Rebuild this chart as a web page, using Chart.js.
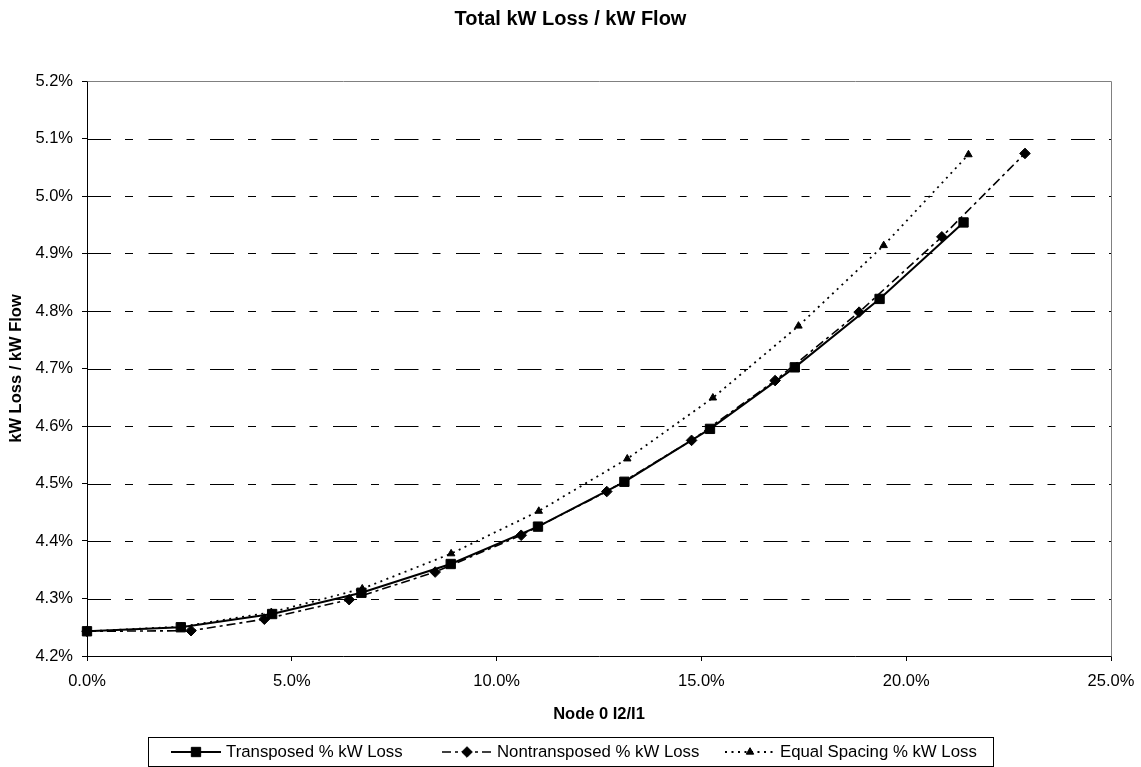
<!DOCTYPE html>
<html>
<head>
<meta charset="utf-8">
<title>Total kW Loss / kW Flow</title>
<script src="https://cdn.jsdelivr.net/npm/chart.js@4.4.1/dist/chart.umd.min.js"></script>
<style>
  html, body { margin: 0; padding: 0; background: #fff; }
  #wrap { position: relative; width: 1141px; height: 767px; }
</style>
</head>
<body>
<div id="wrap"><canvas id="chart" width="1141" height="767"></canvas></div>
<script>
// Node 0 I2/I1 (%) and total kW loss / kW flow (%) for each conductor arrangement
const transposedX    = [0, 2.29, 4.52, 6.70, 8.88, 11.01, 13.12, 15.21, 17.28, 19.35, 21.40];
const transposedY    = [4.243, 4.250, 4.273, 4.310, 4.360, 4.425, 4.503, 4.595, 4.702, 4.821, 4.954];

const nontransposedX = [0, 2.54, 4.33, 6.40, 8.50, 10.60, 12.69, 14.76, 16.80, 18.85, 20.87, 22.90];
const nontransposedY = [4.243, 4.244, 4.264, 4.298, 4.346, 4.410, 4.486, 4.575, 4.679, 4.798, 4.929, 5.074];

const equalSpacingX  = [0, 2.30, 4.50, 6.72, 8.89, 11.03, 13.19, 15.28, 17.37, 19.45, 21.52];
const equalSpacingY  = [4.243, 4.251, 4.276, 4.317, 4.378, 4.452, 4.543, 4.649, 4.774, 4.914, 5.072];

const seriesNames = ['Transposed % kW Loss', 'Nontransposed % kW Loss', 'Equal Spacing % kW Loss'];

const chartTitle = 'Total kW Loss / kW Flow';
const xTitle = 'Node 0 I2/I1';
const yTitle = 'kW Loss / kW Flow';

const xMin = 0, xMax = 25, xStep = 5;
const yMin = 4.2, yMax = 5.2, yStep = 0.1;

const FONT = "'Liberation Sans', Arial, sans-serif";
const GRID_DASH = [24, 14, 8, 15.5];

function pairs(xs, ys) {
  return xs.map((x, i) => ({ x: x, y: ys[i] }));
}

// marker shapes used in the legend samples (same geometry as Chart.js point styles)
function drawMarker(ctx, style, x, y, r) {
  ctx.beginPath();
  if (style === 'rect') {
    const s = Math.SQRT1_2 * r;
    ctx.rect(x - s, y - s, 2 * s, 2 * s);
  } else if (style === 'rectRot') {
    ctx.moveTo(x, y - r);
    ctx.lineTo(x + r, y);
    ctx.lineTo(x, y + r);
    ctx.lineTo(x - r, y);
    ctx.closePath();
  } else if (style === 'triangle') {
    let a = 0;
    ctx.moveTo(x + Math.sin(a) * r, y - Math.cos(a) * r);
    a += 2 * Math.PI / 3;
    ctx.lineTo(x + Math.sin(a) * r, y - Math.cos(a) * r);
    a += 2 * Math.PI / 3;
    ctx.lineTo(x + Math.sin(a) * r, y - Math.cos(a) * r);
    ctx.closePath();
  }
  ctx.fill();
  ctx.stroke();
}

// dashed horizontal gridlines, gray plot frame, title and boxed legend
const decorations = {
  id: 'decorations',
  beforeDatasetsDraw(chart) {
    const { ctx, chartArea: a } = chart;
    const yScale = chart.scales.y;
    ctx.save();
    ctx.strokeStyle = '#000';
    ctx.lineWidth = 1;
    ctx.setLineDash(GRID_DASH);
    yScale.ticks.forEach(t => {
      if (Math.abs(t.value - yMax) < 1e-6 || Math.abs(t.value - yMin) < 1e-6) return;
      const py = Math.round(yScale.getPixelForValue(t.value)) + 0.5;
      ctx.beginPath();
      ctx.moveTo(a.left, py);
      ctx.lineTo(a.right, py);
      ctx.stroke();
    });
    ctx.setLineDash([]);
    ctx.strokeStyle = '#808080';
    ctx.beginPath();
    ctx.moveTo(Math.round(a.left) + 0.5, Math.round(a.top) + 0.5);
    ctx.lineTo(Math.round(a.right) + 0.5, Math.round(a.top) + 0.5);
    ctx.lineTo(Math.round(a.right) + 0.5, Math.round(a.bottom) + 0.5);
    ctx.stroke();
    ctx.restore();
  },
  afterDraw(chart) {
    const { ctx } = chart;
    ctx.save();
    // title
    ctx.fillStyle = '#000';
    ctx.font = 'bold 20px ' + FONT;
    ctx.textAlign = 'center';
    ctx.textBaseline = 'alphabetic';
    ctx.fillText(chartTitle, chart.width / 2, 25);

    // legend
    ctx.font = '16.8px ' + FONT;
    const sampleLen = 50, sampleGap = 5;
    const textX = [226, 497, 780];
    const boxL = 148, boxR = 993, boxT = 737, boxB = 766;
    const cy = (boxT + boxB) / 2 + 0.5;
    ctx.strokeStyle = '#000';
    ctx.lineWidth = 1;
    ctx.strokeRect(boxL + 0.5, boxT + 0.5, boxR - boxL, boxB - boxT);
    chart.data.datasets.forEach((ds, i) => {
      const x = textX[i] - sampleGap - sampleLen;
      ctx.save();
      ctx.strokeStyle = ds.borderColor;
      ctx.lineWidth = ds.borderWidth;
      ctx.setLineDash(ds.borderDash || []);
      ctx.beginPath();
      ctx.moveTo(x, cy);
      ctx.lineTo(x + sampleLen, cy);
      ctx.stroke();
      ctx.setLineDash([]);
      ctx.fillStyle = ds.pointBackgroundColor;
      ctx.strokeStyle = ds.pointBorderColor;
      ctx.lineWidth = ds.pointBorderWidth;
      drawMarker(ctx, ds.pointStyle, x + sampleLen / 2, cy, ds.pointRadius);
      ctx.restore();
      ctx.fillStyle = '#000';
      ctx.textAlign = 'left';
      ctx.textBaseline = 'middle';
      ctx.fillText(ds.label, textX[i], cy);
    });
    ctx.restore();
  }
};

const baseSeries = {
  borderColor: '#000',
  pointBackgroundColor: '#000',
  pointBorderColor: '#000',
  pointBorderWidth: 1,
  showLine: true,
  fill: false,
  tension: 0,
  clip: false
};

const datasets = [
  Object.assign({}, baseSeries, {
    label: seriesNames[0],
    data: pairs(transposedX, transposedY),
    borderWidth: 2,
    borderDash: [],
    pointStyle: 'rect',
    pointRadius: 6.6,
    pointHoverRadius: 6.6
  }),
  Object.assign({}, baseSeries, {
    label: seriesNames[1],
    data: pairs(nontransposedX, nontransposedY),
    borderWidth: 1.6,
    borderDash: [9, 4, 3, 4],
    pointStyle: 'rectRot',
    pointRadius: 5.3,
    pointHoverRadius: 5.3
  }),
  Object.assign({}, baseSeries, {
    label: seriesNames[2],
    data: pairs(equalSpacingX, equalSpacingY),
    borderWidth: 1.8,
    borderDash: [2, 4.5],
    pointStyle: 'triangle',
    pointRadius: 4.3,
    pointHoverRadius: 4.3
  })
];

new Chart(document.getElementById('chart'), {
  type: 'scatter',
  data: { datasets: datasets },
  plugins: [decorations],
  options: {
    responsive: false,
    animation: false,
    devicePixelRatio: 1,
    layout: { padding: { top: 81, right: 30, bottom: 0, left: 0 } },
    plugins: {
      legend: { display: false },
      title: { display: false },
      tooltip: { enabled: false }
    },
    scales: {
      x: {
        type: 'linear',
        min: xMin, max: xMax,
        afterFit(scale) {
          scale.height = 111;
          scale.paddingLeft = 0;
          scale.paddingRight = 0;
        },
        ticks: {
          stepSize: xStep,
          color: '#000',
          padding: 11,
          maxRotation: 0,
          font: { family: FONT, size: 16.5 },
          callback: v => Number(v).toFixed(1) + '%'
        },
        grid: {
          drawOnChartArea: false,
          drawTicks: true,
          tickLength: 5,
          tickColor: '#000',
          tickWidth: 1
        },
        border: { display: true, color: '#000', width: 1 },
        title: {
          display: true,
          text: xTitle,
          color: '#000',
          font: { family: FONT, size: 16.5, weight: 'bold' },
          padding: { top: 0, bottom: 43 }
        }
      },
      y: {
        type: 'linear',
        min: yMin, max: yMax,
        afterFit(scale) { scale.width = 87; },
        ticks: {
          stepSize: yStep,
          color: '#000',
          padding: 9,
          font: { family: FONT, size: 16.5 },
          callback: v => Number(v).toFixed(1) + '%'
        },
        grid: {
          drawOnChartArea: false,
          drawTicks: true,
          tickLength: 5,
          tickColor: '#000',
          tickWidth: 1
        },
        border: { display: true, color: '#000', width: 1 },
        title: {
          display: true,
          text: yTitle,
          color: '#000',
          font: { family: FONT, size: 16.5, weight: 'bold' },
          padding: { top: 7, bottom: 4 }
        }
      }
    }
  }
});
</script>
</body>
</html>
